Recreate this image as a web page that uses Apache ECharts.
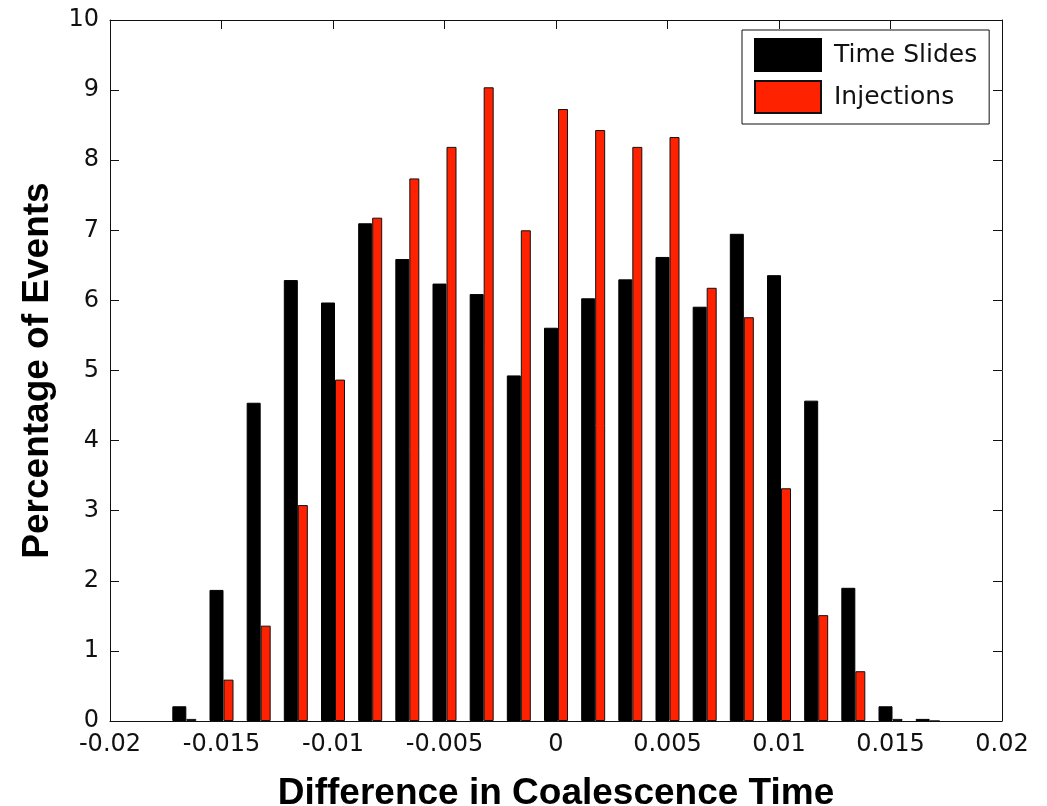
<!DOCTYPE html>
<html>
<head>
<meta charset="utf-8">
<script src="https://cdn.jsdelivr.net/npm/echarts@6/dist/echarts.min.js"></script>
<style>html,body{margin:0;padding:0;background:#fff;}#chart{width:1047px;height:806px;}</style>
</head>
<body>
<div id="chart"></div>
<script>
// Bin centres (difference in coalescence time)
var binCenters = [-0.016667, -0.015, -0.013333, -0.011667, -0.01, -0.008333, -0.006667, -0.005, -0.003333, -0.001667, 0,
                  0.001667, 0.003333, 0.005, 0.006667, 0.008333, 0.01, 0.011667, 0.013333, 0.015, 0.016667];
// Percentage of events
var timeSlides = [0.21, 1.87, 4.54, 6.29, 5.97, 7.10, 6.59, 6.24, 6.09, 4.93, 5.61,
                  6.03, 6.30, 6.62, 5.91, 6.95, 6.36, 4.57, 1.90, 0.21, 0.03];
var injections = [0.03, 0.59, 1.36, 3.08, 4.87, 7.18, 7.74, 8.19, 9.04, 7.00, 8.73,
                  8.43, 8.19, 8.33, 6.18, 5.76, 3.32, 1.51, 0.71, 0.03, 0];
var seriesNames = ['Time Slides', 'Injections'];
var xTitle = 'Difference in Coalescence Time';
var yTitle = 'Percentage of Events';

function pairs(vals) {
  return binCenters.map(function (x, i) { return [x, vals[i]]; });
}
function fmtX(v) {
  return String(+v.toFixed(4));
}

var tickFont = { fontFamily: 'DejaVu Sans', fontSize: 24, color: '#111' };
var axisLineStyle = { lineStyle: { color: '#111', width: 1 } };
var tickStyle = { inside: true, length: 9, lineStyle: { color: '#111', width: 1 } };

var chart = echarts.init(document.getElementById('chart'), null, { renderer: 'canvas' });
chart.setOption({
  backgroundColor: '#fff',
  animation: false,
  grid: { left: 110, right: 45, top: 20, bottom: 85, containLabel: false, outerBoundsMode: 'none' },
  legend: {
    data: seriesNames,
    orient: 'vertical',
    left: 742,
    top: 30,
    icon: 'rect',
    itemWidth: 66,
    itemHeight: 32,
    itemGap: 8,
    padding: [8, 12, 10, 12],
    backgroundColor: '#fff',
    borderColor: '#111',
    borderWidth: 1,
    textStyle: { fontFamily: 'DejaVu Sans', fontSize: 25, color: '#111', padding: [0, 0, 0, 8] }
  },
  xAxis: [{
    type: 'value',
    min: -0.02, max: 0.02, interval: 0.005,
    position: 'bottom',
    axisLine: { show: true, onZero: false, lineStyle: axisLineStyle.lineStyle },
    axisTick: tickStyle,
    splitLine: { show: false },
    axisLabel: Object.assign({ margin: 12, formatter: fmtX }, tickFont),
    name: xTitle,
    nameLocation: 'middle',
    nameGap: 54,
    nameTextStyle: { fontFamily: 'Liberation Sans', fontWeight: 'bold', fontSize: 37, color: '#000' }
  }, {
    type: 'value',
    min: -0.02, max: 0.02, interval: 0.005,
    position: 'top',
    axisLine: { show: true, onZero: false, lineStyle: axisLineStyle.lineStyle },
    axisTick: tickStyle,
    splitLine: { show: false },
    axisLabel: { show: false }
  }],
  yAxis: [{
    type: 'value',
    min: 0, max: 10, interval: 1,
    position: 'left',
    axisLine: { show: true, onZero: false, lineStyle: axisLineStyle.lineStyle },
    axisTick: tickStyle,
    splitLine: { show: false },
    axisLabel: Object.assign({ margin: 11 }, tickFont),
    name: yTitle,
    nameLocation: 'middle',
    nameGap: 54,
    nameRotate: 90,
    nameTextStyle: { fontFamily: 'Liberation Sans', fontWeight: 'bold', fontSize: 37, color: '#000' }
  }, {
    type: 'value',
    min: 0, max: 10, interval: 1,
    position: 'right',
    axisLine: { show: true, onZero: false, lineStyle: axisLineStyle.lineStyle },
    axisTick: tickStyle,
    splitLine: { show: false },
    axisLabel: { show: false }
  }],
  series: [{
    name: seriesNames[0],
    type: 'bar',
    xAxisIndex: 0, yAxisIndex: 0,
    data: pairs(timeSlides),
    barWidth: 14,
    barGap: 0,
    itemStyle: { color: '#000', borderColor: '#000', borderWidth: 1 }
  }, {
    name: seriesNames[1],
    type: 'bar',
    xAxisIndex: 0, yAxisIndex: 0,
    data: pairs(injections),
    barWidth: 10,
    barGap: 0,
    itemStyle: { color: '#ff2200', borderColor: '#111', borderWidth: 1 }
  }]
});
</script>
</body>
</html>
